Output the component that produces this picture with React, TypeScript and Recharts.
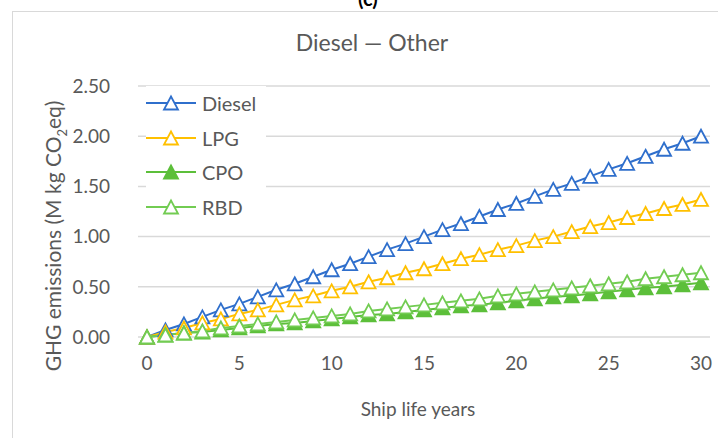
import React from 'react';
import { LineChart, Line, XAxis, YAxis, CartesianGrid } from 'recharts';

const years = [
  0, 1, 2, 3, 4, 5, 6, 7, 8, 9, 10, 11, 12, 13, 14, 15, 16, 17, 18, 19, 20, 21, 22, 23, 24, 25, 26,
  27, 28, 29, 30,
];
const diesel = [
  0, 0.07, 0.13, 0.2, 0.27, 0.33, 0.4, 0.47, 0.53, 0.6, 0.67, 0.73, 0.8, 0.87, 0.93, 1.0, 1.07,
  1.13, 1.2, 1.27, 1.33, 1.4, 1.47, 1.53, 1.6, 1.67, 1.73, 1.8, 1.87, 1.93, 2.0,
];
const lpg = [
  0, 0.05, 0.09, 0.14, 0.18, 0.23, 0.27, 0.32, 0.37, 0.41, 0.46, 0.5, 0.55, 0.59, 0.64, 0.68, 0.73,
  0.78, 0.82, 0.87, 0.91, 0.96, 1.0, 1.05, 1.1, 1.14, 1.19, 1.23, 1.28, 1.32, 1.37,
];
const cpo = [
  0, 0.02, 0.04, 0.05, 0.07, 0.09, 0.11, 0.13, 0.14, 0.16, 0.18, 0.2, 0.22, 0.23, 0.25, 0.27, 0.29,
  0.31, 0.32, 0.34, 0.36, 0.38, 0.4, 0.41, 0.43, 0.45, 0.47, 0.49, 0.5, 0.52, 0.54,
];
const rbd = [
  0, 0.02, 0.04, 0.06, 0.09, 0.11, 0.13, 0.15, 0.17, 0.19, 0.21, 0.23, 0.26, 0.28, 0.3, 0.32, 0.34,
  0.36, 0.38, 0.41, 0.43, 0.45, 0.47, 0.49, 0.51, 0.53, 0.55, 0.58, 0.6, 0.62, 0.64,
];
const xTicks = [0, 5, 10, 15, 20, 25, 30];
const yTicks = [0, 0.5, 1, 1.5, 2, 2.5];

const data = years.map((y, i) => ({
  year: y,
  Diesel: diesel[i],
  LPG: lpg[i],
  CPO: cpo[i],
  RBD: rbd[i],
}));

const series = [
  { key: 'Diesel', color: '#2f6fcc', filled: false },
  { key: 'LPG', color: '#ffc000', filled: false },
  { key: 'CPO', color: '#5cbf3a', filled: true },
  { key: 'RBD', color: '#72cc52', filled: false },
];

const FONT = 'Lato, "Open Sans", sans-serif';
const TEXT = '#595959';

// triangle marker like Excel's
const triangle = (cx: number, cy: number, color: string, filled: boolean) => {
  const w = 7;
  const h = 6.5;
  return (
    <path
      d={`M${cx},${cy - h} L${cx + w},${cy + h} L${cx - w},${cy + h} Z`}
      fill={filled ? color : '#fff'}
      stroke={color}
      strokeWidth={1.8}
      strokeLinejoin="miter"
    />
  );
};

const makeDot = (color: string, filled: boolean) => (props: any) => {
  const { cx, cy, index } = props;
  if (cx == null || cy == null) return <g key={index} />;
  return <g key={index}>{triangle(cx, cy, color, filled)}</g>;
};

const LegendBox = () => (
  <div style={{ position: 'absolute', left: 146, top: 86, background: '#fff', paddingRight: 10 }}>
    {series.map((s) => (
      <div key={s.key} style={{ display: 'flex', alignItems: 'center', height: 34.5 }}>
        <svg width={52} height={20}>
          <line x1={0} y1={10} x2={50} y2={10} stroke={s.color} strokeWidth={2} />
          {triangle(25, 10, s.color, s.filled)}
        </svg>
        <span style={{ fontFamily: FONT, fontSize: 20, color: TEXT, marginLeft: 4 }}>{s.key}</span>
      </div>
    ))}
  </div>
);

const App = () => {
  return (
    <div style={{ position: 'fixed', top: 0, left: 0, width: 718, height: 438, background: '#fff', overflow: 'hidden' }}>
      <div
        style={{
          position: 'absolute',
          left: 12,
          top: 11,
          width: 720,
          height: 440,
          border: '1.5px solid #d9d9d9',
          boxSizing: 'border-box',
        }}
      />
      <div
        style={{
          position: 'absolute',
          top: -14,
          left: 358,
          fontFamily: FONT,
          fontSize: 20,
          fontWeight: 700,
          color: '#000',
        }}
      >
        (c)
      </div>
      <div
        style={{
          position: 'absolute',
          top: 28,
          left: 0,
          width: 744,
          textAlign: 'center',
          fontFamily: FONT,
          fontSize: 23,
          color: TEXT,
        }}
      >
        Diesel — Other
      </div>
      <svg style={{ position: 'absolute', left: 0, top: 0 }} width={718} height={438}>
        <text
          transform="translate(61,236) rotate(-90)"
          textAnchor="middle"
          fontFamily={FONT}
          fontSize={21}
          fill={TEXT}
        >
          GHG emissions (M kg CO
          <tspan fontSize={13} dy={6}>
            2
          </tspan>
          <tspan dy={-6}>eq)</tspan>
        </text>
        <text x={418} y={416} textAnchor="middle" fontFamily={FONT} fontSize={19} fill={TEXT}>
          Ship life years
        </text>
      </svg>
      <div style={{ position: 'absolute', left: 0, top: 0 }}>
        <LineChart width={718} height={438} data={data} margin={{ top: 86, right: 8, left: 0, bottom: 0 }}>
          <CartesianGrid vertical={false} stroke="#d9d9d9" strokeWidth={1.5} />
          <XAxis
            dataKey="year"
            type="number"
            domain={[0, 30]}
            ticks={xTicks}
            padding={{ left: 9, right: 9 }}
            axisLine={false}
            tickLine={false}
            tickSize={0}
            tickMargin={20}
            height={101}
            tick={{ fill: TEXT, fontSize: 19, fontFamily: FONT }}
          />
          <YAxis
            type="number"
            domain={[0, 2.5]}
            ticks={yTicks}
            tickFormatter={(v: number) => v.toFixed(2)}
            axisLine={false}
            tickLine={false}
            tickSize={0}
            tickMargin={28}
            width={138}
            tick={{ fill: TEXT, fontSize: 19, fontFamily: FONT }}
          />
          {series.map((s) => (
            <Line
              key={s.key}
              dataKey={s.key}
              stroke={s.color}
              strokeWidth={2}
              dot={makeDot(s.color, s.filled)}
              activeDot={false}
              isAnimationActive={false}
            />
          ))}
        </LineChart>
      </div>
      <LegendBox />
    </div>
  );
};

export default App;
